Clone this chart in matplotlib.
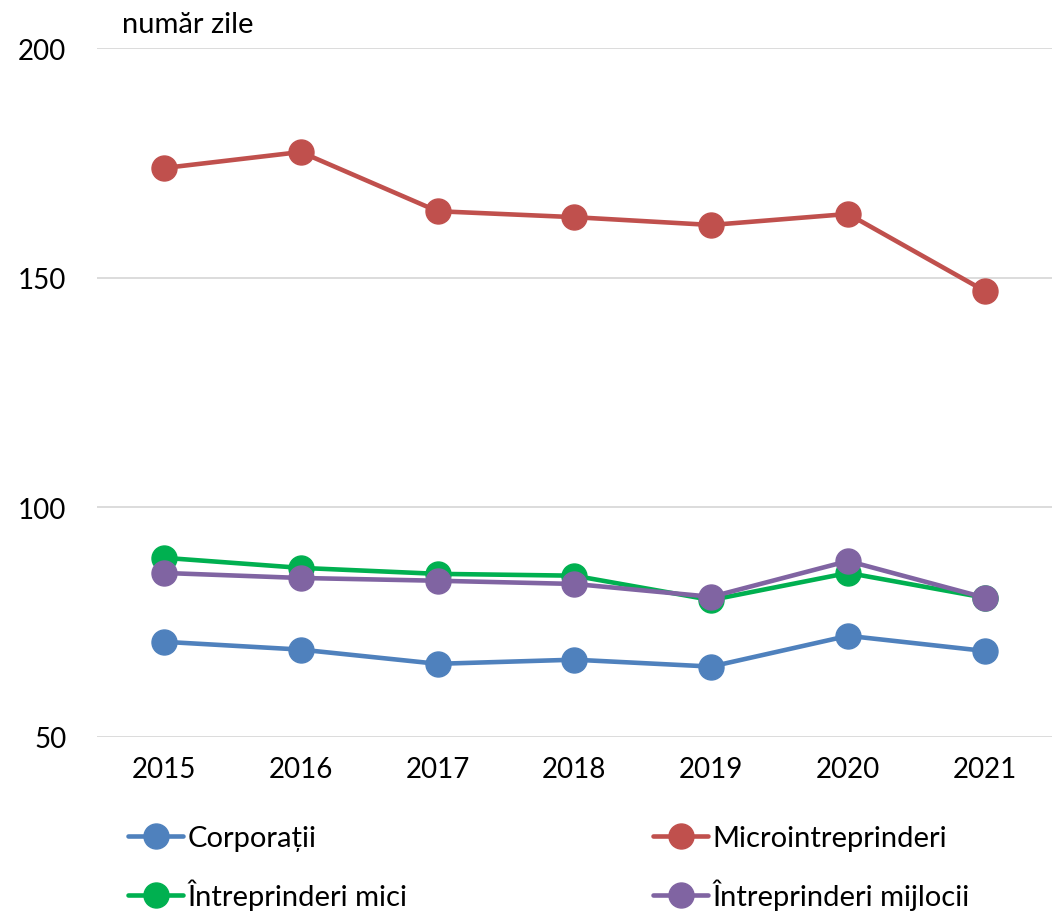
import matplotlib.pyplot as plt

plt.rcParams["font.family"] = ["Lato", "DejaVu Sans"]

years = ["2015", "2016", "2017", "2018", "2019", "2020", "2021"]
corporatii = [70.7, 69.0, 65.9, 66.8, 65.3, 72.0, 68.7]
micro = [173.9, 177.4, 164.5, 163.2, 161.5, 163.9, 147.1]
mici = [89.0, 86.8, 85.5, 85.1, 79.8, 85.7, 80.3]
mijlocii = [85.7, 84.6, 84.0, 83.3, 80.5, 88.3, 80.3]
y_ticks = [50, 100, 150, 200]

series = [
    ("Corporații", corporatii, "#4F81BD"),
    ("Microintreprinderi", micro, "#C0504D"),
    ("Întreprinderi mici", mici, "#00B050"),
    ("Întreprinderi mijlocii", mijlocii, "#8064A2"),
]

fig = plt.figure(figsize=(10.52, 9.12), dpi=100)
ax = fig.add_axes([0.092, 0.191, 0.908, 0.755])

x = list(range(len(years)))
lines = []
for label, values, color in series:
    (ln,) = ax.plot(x, values, color=color, lw=3.3, marker="o", markersize=18,
                    label=label, solid_capstyle="round")
    lines.append(ln)

ax.set_xlim(-0.49, len(years) - 0.51)
ax.set_ylim(50, 200)
ax.set_yticks(y_ticks)
ax.set_xticks(x, years)
ax.tick_params(length=0, labelsize=20, pad=14)
ax.tick_params(axis="y", pad=22)
ax.grid(axis="y", color="#D9D9D9", lw=1.3)
ax.set_axisbelow(True)
for side in ax.spines.values():
    side.set_visible(False)

fig.text(0.116, 0.973, "număr zile", fontsize=21, va="center")

# legend filled column by column, so reorder to get two rows
order = [0, 2, 1, 3]
fig.legend([lines[i] for i in order], [series[i][0] for i in order],
           loc="upper left", bbox_to_anchor=(0.1217, 0.0945), ncol=2,
           frameon=False, fontsize=21, columnspacing=8.4,
           borderaxespad=0, borderpad=0,
           handlelength=1.9, handletextpad=0.15, labelspacing=0.95)

fig.savefig("out.png")
